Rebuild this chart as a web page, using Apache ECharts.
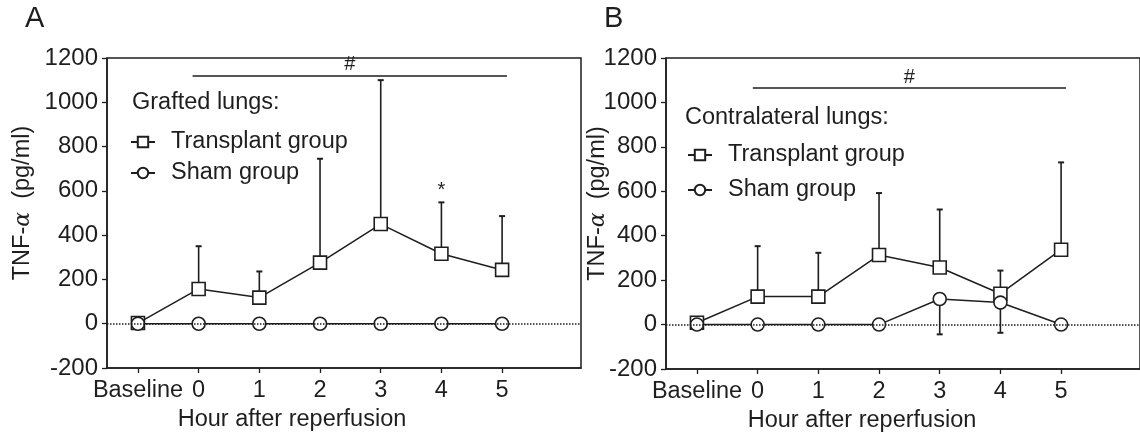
<!DOCTYPE html>
<html>
<head>
<meta charset="utf-8">
<script src="https://cdn.jsdelivr.net/npm/echarts@6/dist/echarts.min.js"></script>
<style>
  html, body { margin: 0; padding: 0; background: #fff; }
  #main { width: 1140px; height: 443px; }
</style>
</head>
<body>
<div id="main"></div>
<script>
// x positions: Baseline is drawn one step left of hour 0
var xTicks = ['Baseline', '0', '1', '2', '3', '4', '5'];
var xPos = [-1, 0, 1, 2, 3, 4, 5];

// panel A - grafted lungs
var aTransMean = [3, 157, 118, 276, 450, 316, 243];
var aTransUpper = [null, 350, 236, 745, 1100, 548, 486];
var aShamMean = [0, 0, 0, 0, 0, 0, 0];

// panel B - contralateral lungs
var bTransMean = [8, 126, 126, 313, 257, 139, 337];
var bTransUpper = [null, 353, 323, 592, 518, 243, 730];
var bShamMean = [0, 0, 0, 0, 115, 99, 0];
var bShamLower = [null, null, null, null, -44, -37, null];

var ink = '#1e1e1e';
var font = 'Liberation Sans';

function pairs(vals) {
  return vals.map(function (v, i) { return [xPos[i], v]; });
}
function errPairs(mean, ends) {
  var out = [];
  ends.forEach(function (e, i) {
    if (e !== null) out.push([xPos[i], mean[i], e]);
  });
  return out;
}

function renderErr(params, api) {
  var p1 = api.coord([api.value(0), api.value(1)]);
  var p2 = api.coord([api.value(0), api.value(2)]);
  return {
    type: 'group',
    children: [
      { type: 'line', shape: { x1: p1[0], y1: p1[1], x2: p2[0], y2: p2[1] }, style: { stroke: ink, lineWidth: 1.6 } },
      { type: 'line', shape: { x1: p2[0] - 3, y1: p2[1], x2: p2[0] + 3, y2: p2[1] }, style: { stroke: ink, lineWidth: 2 } }
    ]
  };
}

function xAxisOf(idx, max) {
  return {
    type: 'value', gridIndex: idx, min: -1.51, max: max,
    name: 'Hour after reperfusion', nameLocation: 'middle', nameGap: 36,
    nameTextStyle: { fontFamily: font, fontSize: 23.5, color: ink, padding: [0, idx === 0 ? 104 : 82, 0, 0] },
    axisLine: { onZero: false, lineStyle: { color: ink, width: 1.5 } },
    axisTick: { show: true, length: 5, customValues: xPos, lineStyle: { color: ink, width: 1.3 } },
    axisLabel: {
      customValues: xPos, margin: 11, fontFamily: font, fontSize: 23.5, color: ink,
      formatter: function (v) { return xTicks[xPos.indexOf(Math.round(v))]; }
    },
    splitLine: { show: false }
  };
}

function yAxisOf(idx, gap) {
  return {
    type: 'value', gridIndex: idx, min: -200, max: 1200, interval: 200,
    name: 'TNF-{a|α}  (pg/ml)', nameLocation: 'middle', nameRotate: 90, nameGap: gap,
    nameMoveOverlap: false,
    nameTextStyle: {
      fontFamily: font, fontSize: 23.5, color: ink, padding: [0, 0, 0, 20],
      rich: { a: { fontFamily: 'DejaVu Serif', fontStyle: 'italic', fontSize: 22, color: ink } }
    },
    axisLine: { show: true, onZero: false, lineStyle: { color: ink, width: 1.5 } },
    axisTick: { show: true, length: 5, lineStyle: { color: ink, width: 1.3 } },
    axisLabel: { margin: 9, fontFamily: font, fontSize: 24, color: ink, formatter: function (v) { return String(v); } },
    splitLine: { show: false }
  };
}

function sigLine(x1, x2, y) {
  return {
    silent: true, symbol: 'none',
    data: [[
      { coord: [x1, y], lineStyle: { type: 'solid', color: ink, width: 1.6 },
        label: { show: true, position: 'middle', formatter: '#', fontFamily: font, fontSize: 20, color: ink, distance: 1 } },
      { coord: [x2, y] }
    ]]
  };
}

var zeroLine = {
  silent: true, symbol: 'none', label: { show: false },
  lineStyle: { type: 'dotted', color: ink, width: 1.5 },
  data: [{ yAxis: 0 }]
};

function transSeries(idx, vals, mark, point) {
  var s = {
    name: 'Transplant group', type: 'line', xAxisIndex: idx, yAxisIndex: idx,
    data: pairs(vals), symbol: 'rect', symbolSize: 13, z: 3,
    lineStyle: { color: ink, width: 1.5 },
    itemStyle: { color: '#fff', borderColor: ink, borderWidth: 1.6 },
    markLine: mark
  };
  if (point) s.markPoint = point;
  return s;
}
function shamSeries(idx, vals) {
  return {
    name: 'Sham group', type: 'line', xAxisIndex: idx, yAxisIndex: idx,
    data: pairs(vals), symbol: 'circle', symbolSize: 13, z: 4,
    lineStyle: { color: ink, width: 1.5 },
    itemStyle: { color: '#fff', borderColor: ink, borderWidth: 1.6 },
    markLine: zeroLine
  };
}
function errSeries(idx, data) {
  return { type: 'custom', xAxisIndex: idx, yAxisIndex: idx, renderItem: renderErr, data: data, z: 2, silent: true };
}

function legendOf(name, left, top) {
  return {
    data: [name], left: left, top: top, padding: 0, itemWidth: 24, itemHeight: 13,
    selectedMode: false,
    textStyle: { fontFamily: font, fontSize: 23.5, color: ink, lineHeight: 26, padding: [0, 0, 0, 11] }
  };
}

var chart = echarts.init(document.getElementById('main'), null, { renderer: 'canvas' });
chart.setOption({
  animation: false,
  backgroundColor: '#fff',
  grid: [
    { left: 107, top: 58, width: 474, height: 310, show: true, borderColor: ink, borderWidth: 1.5 },
    { left: 666, top: 58, width: 477, height: 311, show: true, borderColor: ink, borderWidth: 1.5 }
  ],
  xAxis: [xAxisOf(0, 6.3), xAxisOf(1, 6.3)],
  yAxis: [yAxisOf(0, 72), yAxisOf(1, 56)],
  legend: [
    legendOf('Transplant group', 130, 129),
    legendOf('Sham group', 130, 160),
    legendOf('Transplant group', 687, 142),
    legendOf('Sham group', 687, 177)
  ],
  graphic: [
    { type: 'text', x: 25, y: 19, style: { text: 'A', font: '29px "Liberation Sans"', fill: ink, verticalAlign: 'middle' } },
    { type: 'text', x: 604, y: 19, style: { text: 'B', font: '29px "Liberation Sans"', fill: ink, verticalAlign: 'middle' } },
    { type: 'text', x: 132, y: 103, style: { text: 'Grafted lungs:', font: '23.5px "Liberation Sans"', fill: ink, verticalAlign: 'middle' } },
    { type: 'text', x: 685, y: 118, style: { text: 'Contralateral lungs:', font: '23.5px "Liberation Sans"', fill: ink, verticalAlign: 'middle' } }
  ],
  series: [
    errSeries(0, errPairs(aTransMean, aTransUpper)),
    transSeries(0, aTransMean, sigLine(-0.1, 5.08, 1120), {
      silent: true, symbol: 'circle', symbolSize: 1, itemStyle: { color: 'rgba(0,0,0,0)' },
      label: { show: true, position: 'inside', formatter: '*', fontFamily: font, fontSize: 20, color: ink },
      data: [{ coord: [4, 600] }]
    }),
    shamSeries(0, aShamMean),
    errSeries(1, errPairs(bTransMean, bTransUpper)),
    errSeries(1, errPairs(bShamMean, bShamLower)),
    transSeries(1, bTransMean, sigLine(-0.08, 5.08, 1065)),
    shamSeries(1, bShamMean)
  ]
});
</script>
</body>
</html>
